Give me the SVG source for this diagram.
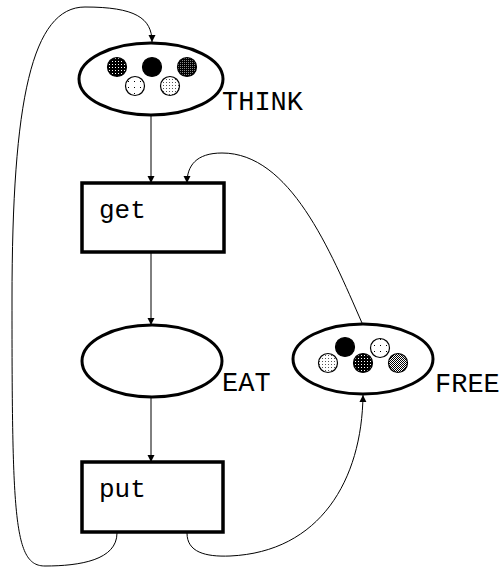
<svg xmlns="http://www.w3.org/2000/svg" width="499" height="569" viewBox="0 0 499 569">
<style>
.place{fill:#fff;stroke:#000;stroke-width:3}
.trans{fill:#fff;stroke:#000;stroke-width:3.5}
.edge{fill:none;stroke:#000;stroke-width:1}
.lbl{font-family:"Liberation Mono","DejaVu Sans Mono",monospace;font-size:26px;fill:#000}
.big{font-size:27px}
.tok{stroke:#000;stroke-width:1.2}
</style>
<defs>
<marker id="ah" viewBox="0 0 10 10" refX="10" refY="5" markerWidth="7" markerHeight="10" markerUnits="userSpaceOnUse" orient="auto">
<path d="M0,0 L10,5 L0,10 z" fill="#000"/>
</marker>
<pattern id="grid" width="3" height="3" patternUnits="userSpaceOnUse">
<rect width="3" height="3" fill="#000"/><rect x="1" y="1" width="1" height="1" fill="#fff"/>
</pattern>
<pattern id="sparse" width="6" height="6" patternUnits="userSpaceOnUse">
<rect width="6" height="6" fill="#fff"/><rect x="2" y="3" width="1" height="1" fill="#000"/>
</pattern>
<pattern id="light" width="3" height="3" patternUnits="userSpaceOnUse">
<rect width="3" height="3" fill="#fff"/><rect x="1" y="1" width="1" height="1" fill="#555"/>
</pattern>
<pattern id="checker" width="2" height="2" patternUnits="userSpaceOnUse">
<rect width="2" height="2" fill="#fff"/><rect width="1" height="1" fill="#000"/><rect x="1" y="1" width="1" height="1" fill="#000"/>
</pattern>
<pattern id="dense" width="2" height="2" patternUnits="userSpaceOnUse">
<rect width="2" height="2" fill="#000"/><rect width="1" height="1" fill="#888"/>
</pattern>
</defs>
<g id="connectors">
<path class="edge" d="M151,116 L151,183" marker-end="url(#ah)"/>
<path class="edge" d="M151,252 L151,325" marker-end="url(#ah)"/>
<path class="edge" d="M151,398 L151,462" marker-end="url(#ah)"/>
<path class="edge" d="M117,533 C117,560 80,566 45,566 C14,566 12,520 12,300 C12,100 32,7 85,7 C135,7 152,18 152,42" marker-end="url(#ah)"/>
<path class="edge" d="M187,533 C187,552 205,557 230,556 C320,552 362,480 363,395" marker-end="url(#ah)"/>
<path class="edge" d="M362,323 C330,250 290,153 222,153 C196,153 187,166 187,183" marker-end="url(#ah)"/>
</g>
<g id="THINK">
<ellipse class="place" cx="151" cy="79" rx="72" ry="36"/>
<circle class="tok" cx="117" cy="67" r="9.5" fill="url(#grid)"/>
<circle class="tok" cx="152" cy="67" r="9.5" fill="#000"/>
<circle class="tok" cx="187" cy="67" r="9.5" fill="url(#dense)"/>
<circle class="tok" cx="135" cy="86" r="9.5" fill="url(#sparse)"/>
<circle class="tok" cx="170" cy="86" r="9.5" fill="url(#light)"/>
<text class="lbl big" x="222" y="110">THINK</text>
</g>
<g id="get">
<rect class="trans" x="82" y="183" width="142" height="69"/>
<text class="lbl" x="99" y="218">get</text>
</g>
<g id="EAT">
<ellipse class="place" cx="152" cy="361" rx="70" ry="36"/>
<text class="lbl big" x="222" y="391">EAT</text>
</g>
<g id="FREE">
<ellipse class="place" cx="363" cy="359" rx="70" ry="35"/>
<circle class="tok" cx="345" cy="347" r="9.5" fill="#000"/>
<circle class="tok" cx="380" cy="348" r="9.5" fill="url(#sparse)"/>
<circle class="tok" cx="328" cy="363" r="9.5" fill="url(#light)"/>
<circle class="tok" cx="363" cy="363" r="9.5" fill="url(#grid)"/>
<circle class="tok" cx="398" cy="363" r="9.5" fill="url(#checker)"/>
<text class="lbl big" x="435" y="392">FREE</text>
</g>
<g id="put">
<rect class="trans" x="82" y="462" width="141" height="70"/>
<text class="lbl" x="99" y="497">put</text>
</g>
</svg>
